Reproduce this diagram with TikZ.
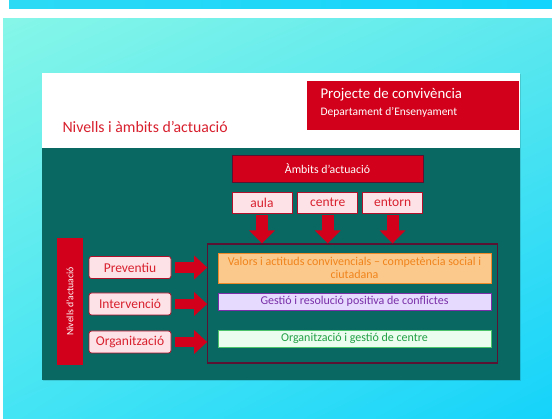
\documentclass[tikz,border=0pt]{standalone}
\usepackage{fontspec}
\setmainfont{Carlito}
\usetikzlibrary{arrows.meta}
\usetikzlibrary{positioning}
\usetikzlibrary{shadings}

\definecolor{skytl}{HTML}{86F6E8}
\definecolor{skytr}{HTML}{5CE8EE}
\definecolor{skybl}{HTML}{44E4F4}
\definecolor{skybr}{HTML}{15D3FA}
\definecolor{stripl}{HTML}{2DDAF5}
\definecolor{stripr}{HTML}{12D4FC}
\definecolor{slideteal}{HTML}{0A6862}
\definecolor{headred}{HTML}{D2001A}
\definecolor{titlered}{HTML}{D8202E}
\definecolor{pinkfill}{HTML}{FDE3E7}
\definecolor{pinkline}{HTML}{B0102A}
\definecolor{frameline}{HTML}{5A1232}
\definecolor{orfill}{HTML}{FCC98C}
\definecolor{orline}{HTML}{EE8A2A}
\definecolor{ortext}{HTML}{F0841C}
\definecolor{lilfill}{HTML}{E6DAFF}
\definecolor{lilline}{HTML}{7A2FA8}
\definecolor{grfill}{HTML}{EAFDEE}
\definecolor{grline}{HTML}{4CC46A}
\definecolor{grtext}{HTML}{22A046}

\tikzset{
        fs/.style={font=\fontsize{#1}{#1}\selectfont},
        pinkbox/.style={draw=pinkline, fill=pinkfill, text=titlered, line width=0.8pt,
                rounded corners=2.5pt, inner sep=0pt, minimum height=22pt},
        redbox/.style={fill=headred, text=white, inner sep=0pt},
        ambitbox/.style={pinkbox, rounded corners=0pt, minimum width=60pt, minimum height=21pt, fs=13.5},
        nivellbox/.style={pinkbox, minimum width=82pt, fs=13.5},
        fieldbox/.style={line width=0.9pt, inner sep=0pt, minimum width=273pt, minimum height=17pt, fs=12},
        fatdown/.style={draw=headred, line width=12pt, -{Triangle[width=25pt,length=13pt]}},
        fatright/.style={draw=headred, line width=10.5pt, -{Triangle[width=23pt,length=13pt]}}
}

\begin{document}
\begin{tikzpicture}[x=1pt,y=-1pt]
        \useasboundingbox (0,0) rectangle (552,419);
        \fill[white] (0,0) rectangle (552,419);
        \shade[left color=stripl, right color=stripr] (9,0) rectangle (552,9);
        \shade[upper left=skytl, upper right=skytr, lower left=skybl, lower right=skybr] (3,19) rectangle (552,419);

        % slide
        \fill[black, opacity=.12] (43,74) rectangle (521,381);
        \fill[white] (42,73) rectangle (520,148);
        \fill[slideteal] (42,148) rectangle (520,380);

        \node[redbox, minimum width=212pt, minimum height=49pt] (head) at (413,105.5) {};
        \node[anchor=west, text=white, fs=14.8] (proj) at (317,95) {Projecte de convivència};
        \node[anchor=west, text=white, fs=11.5] (dept) at (317,112) {Departament d’Ensenyament};
        \node[anchor=west, text=titlered, fs=15.8] (title) at (59,127) {Nivells i àmbits d’actuació};

        % ambits
        \node[redbox, draw=frameline, line width=.6pt, minimum width=191pt, minimum height=27pt, fs=11.8] (ambits) at (327.5,168.5) {Àmbits d’actuació};
        \node[ambitbox] (aula) at (262,202.5) {aula};
        \node[ambitbox, right=5pt of aula] (centre) {centre};
        \node[ambitbox, right=4pt of centre] (entorn) {entorn};

        % nivells
        \node[redbox, minimum width=26pt, minimum height=127pt] (nivells) at (70,301.5) {};
        \node[rotate=90, text=white, fs=9.8] (nivlabel) at (nivells.center) {Nivells d’actuació};
        \node[nivellbox] (prev) at (130,267.5) {Preventiu};
        \node[nivellbox] (interv) at (130,304) {Intervenció};
        \node[nivellbox] (organ) at (130,342) {Organització};

        % frame with the fields
        \node[draw=frameline, line width=1.1pt, minimum width=290pt, minimum height=119pt, inner sep=0pt] (frame) at (352.75,303.5) {};
        \node[fieldbox, draw=orline, fill=orfill, text=ortext, minimum height=30pt, align=center] (valors) at (354.5,268)
                {Valors i actituds convivencials – competència social i\\[1pt]ciutadana};
        \node[fieldbox, draw=lilline, fill=lilfill, text=lilline] (gestio) at (354.5,301.5) {Gestió i resolució positiva de conflictes};
        \node[fieldbox, draw=grline, fill=grfill, text=grtext] (org) at (354.5,338.5) {Organització i gestió de centre};

        \foreach \a in {aula,centre,entorn}
                \draw[fatdown] ([yshift=-2pt]\a.south) -- (\a.south |- frame.north);
        \foreach \n in {prev,interv,organ}
                \draw[fatright] ([xshift=4pt]\n.east) -- (\n.east -| frame.west);
\end{tikzpicture}
\end{document}
